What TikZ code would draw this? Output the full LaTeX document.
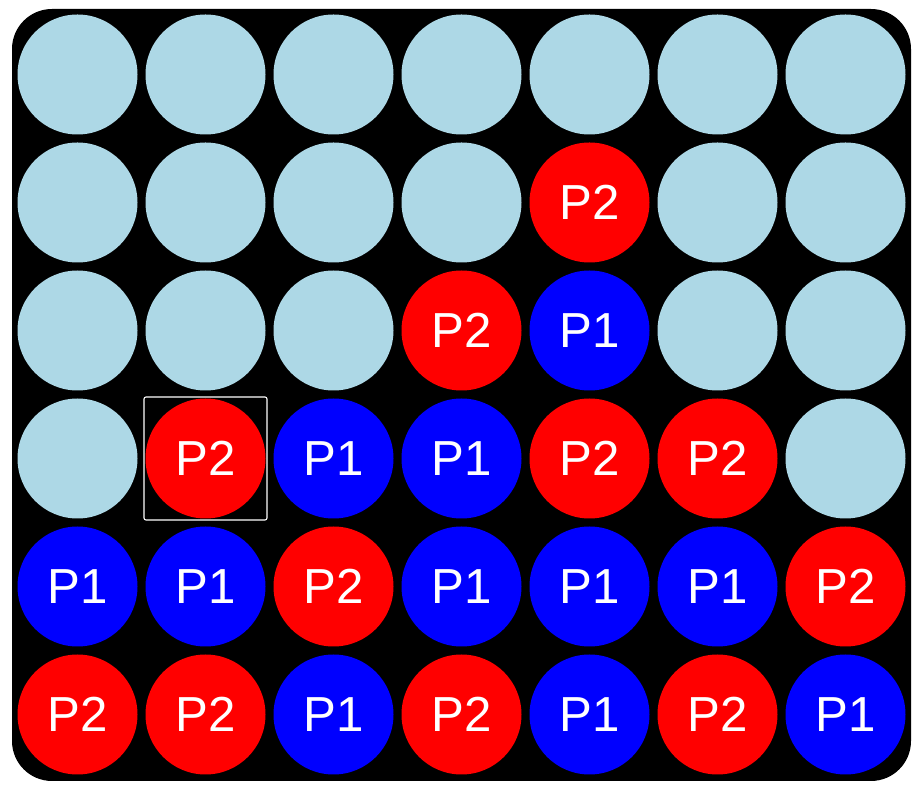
\documentclass[tikz,border=0pt]{standalone}
\usepackage{fontspec}
\setmainfont{Liberation Sans}
\usepackage{xcolor}
\definecolor{emptyblue}{RGB}{173,216,230}
\tikzset{
    slot/.style = {circle, minimum size=2.4cm, inner sep=0pt, text=white, font=\fontsize{28}{34}\selectfont},
    empty/.style = {slot, fill=emptyblue},
    pone/.style = {slot, fill=blue},
    ptwo/.style = {slot, fill=red},
    board/.style = {fill=black, rounded corners=0.8cm},
    pick/.style = {rectangle, draw=white, line width=0.6pt, rounded corners=0.04cm, minimum size=2.46cm, inner sep=0pt}
}

\begin{document}
\begin{tikzpicture}
	\useasboundingbox (0, 0) rectangle (18.46, 15.9);
	\fill[board] (0.24, 0.28) rectangle (18.22, 15.72);

	% row 1
	\node[empty](N11) at (1.55, 14.41){};
	\node[empty](N12) at (4.11, 14.41){};
	\node[empty](N13) at (6.67, 14.41){};
	\node[empty](N14) at (9.23, 14.41){};
	\node[empty](N15) at (11.79, 14.41){};
	\node[empty](N16) at (14.35, 14.41){};
	\node[empty](N17) at (16.91, 14.41){};

	% row 2
	\node[empty](N21) at (1.55, 11.85){};
	\node[empty](N22) at (4.11, 11.85){};
	\node[empty](N23) at (6.67, 11.85){};
	\node[empty](N24) at (9.23, 11.85){};
	\node[ptwo](N25) at (11.79, 11.85){P2};
	\node[empty](N26) at (14.35, 11.85){};
	\node[empty](N27) at (16.91, 11.85){};

	% row 3
	\node[empty](N31) at (1.55, 9.29){};
	\node[empty](N32) at (4.11, 9.29){};
	\node[empty](N33) at (6.67, 9.29){};
	\node[ptwo](N34) at (9.23, 9.29){P2};
	\node[pone](N35) at (11.79, 9.29){P1};
	\node[empty](N36) at (14.35, 9.29){};
	\node[empty](N37) at (16.91, 9.29){};

	% row 4
	\node[empty](N41) at (1.55, 6.73){};
	\node[ptwo](N42) at (4.11, 6.73){P2};
	\node[pone](N43) at (6.67, 6.73){P1};
	\node[pone](N44) at (9.23, 6.73){P1};
	\node[ptwo](N45) at (11.79, 6.73){P2};
	\node[ptwo](N46) at (14.35, 6.73){P2};
	\node[empty](N47) at (16.91, 6.73){};

	% row 5
	\node[pone](N51) at (1.55, 4.17){P1};
	\node[pone](N52) at (4.11, 4.17){P1};
	\node[ptwo](N53) at (6.67, 4.17){P2};
	\node[pone](N54) at (9.23, 4.17){P1};
	\node[pone](N55) at (11.79, 4.17){P1};
	\node[pone](N56) at (14.35, 4.17){P1};
	\node[ptwo](N57) at (16.91, 4.17){P2};

	% row 6
	\node[ptwo](N61) at (1.55, 1.61){P2};
	\node[ptwo](N62) at (4.11, 1.61){P2};
	\node[pone](N63) at (6.67, 1.61){P1};
	\node[ptwo](N64) at (9.23, 1.61){P2};
	\node[pone](N65) at (11.79, 1.61){P1};
	\node[ptwo](N66) at (14.35, 1.61){P2};
	\node[pone](N67) at (16.91, 1.61){P1};

	% last move
	\node[pick](M) at (N42.center){};
\end{tikzpicture}
\end{document}
